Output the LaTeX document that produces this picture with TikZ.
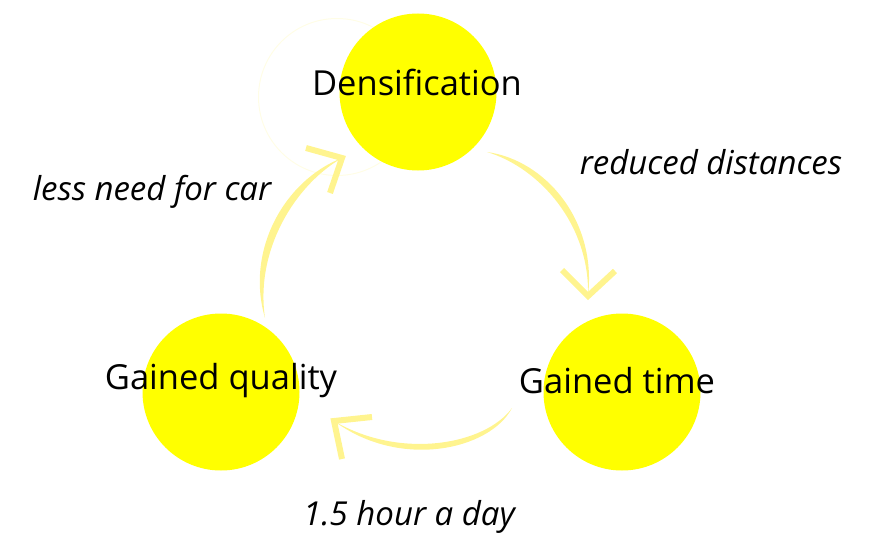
\documentclass[tikz,border=0pt]{standalone}
\usepackage{fontspec}
\setmainfont[Ligatures=NoCommon]{Open Sans}
\definecolor{circyel}{HTML}{FFFF00}
\definecolor{arryel}{HTML}{FFF48F}
\definecolor{faint}{HTML}{FFFDE6}
\begin{document}
\begin{tikzpicture}[x=1pt,y=-1pt,
  bubble/.style={circle,fill=circyel,minimum size=157pt,inner sep=0pt},
  lbl/.style={font=\fontsize{34.5}{38}\selectfont,text=black},
  edgelbl/.style={font=\fontsize{33}{36}\selectfont\itshape,text=black},
  chev/.style={draw=arryel,line width=6pt}]
\useasboundingbox (0,0) rectangle (878,535);
% faint ghost circle
\node[circle,draw=faint,line width=1pt,minimum size=157pt,inner sep=0pt] (ghost) at (337,97) {};
% circles
\node[bubble] (dens) at (418,92) {};
\node[bubble] (qual) at (221,392) {};
\node[bubble] (time) at (622,392) {};
% labels
\node[lbl] (tdens) at (417,82) {Densification};
\node[lbl] (tqual) at (221,381) {Gained quality};
\node[lbl] (ttime) at (617,381) {Gained time};
\node[edgelbl] (l1) at (711,162) {reduced distances};
\node[edgelbl] (l2) at (152,192) {less need for car};
\node[edgelbl] (l3) at (409,517) {1.5 hour a day};
% arrow coordinates
\coordinate (a1s) at (487,152);
\coordinate (a1t) at (588,296);
\coordinate (a2s) at (512,408);
\coordinate (a2t) at (334,421);
\coordinate (a3s) at (265,318);
\coordinate (a3t) at (342,158);
% arrow 1 (Densification -> Gained time)
\fill[arryel] (a1s) .. controls (545,160) and (597,220) .. (a1t)
  .. controls (590,225) and (540,168) .. (a1s) -- cycle;
\draw[chev] (562,270) -- (a1t) -- (615,271);
% arrow 2 (Gained time -> Gained quality)
\fill[arryel] (a2s) .. controls (490,450) and (400,470) .. (a2t)
  .. controls (400,460) and (485,445) .. (a2s) -- cycle;
\draw[chev] (372,417) -- (a2t) -- (342,459);
% arrow 3 (Gained quality -> Densification)
\fill[arryel] (a3s) .. controls (245,250) and (285,180) .. (a3t)
  .. controls (295,185) and (255,250) .. (a3s) -- cycle;
\draw[chev] (306,148) -- (a3t) -- (330,193);
\end{tikzpicture}
\end{document}
